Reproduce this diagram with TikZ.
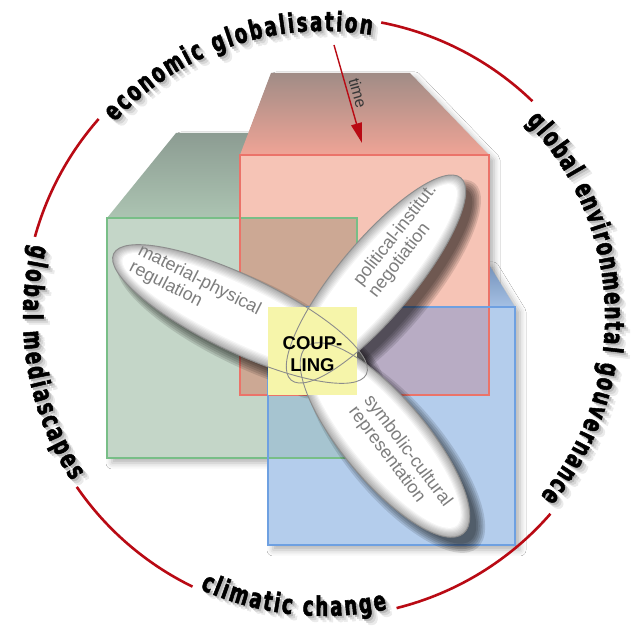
\documentclass[tikz,border=0pt]{standalone}
\usepackage{fontspec}
\setmainfont{Liberation Sans}
\newfontfamily\ringfont{DejaVu Sans}[FakeStretch=0.68,FakeBold=1.8]
\usetikzlibrary{arrows.meta,decorations.text,shadows.blur}

\definecolor{ringred}{RGB}{185,10,20}
\definecolor{greenfront}{RGB}{196,214,200}
\definecolor{greenedge}{RGB}{120,190,135}
\definecolor{greentopback}{RGB}{140,156,146}
\definecolor{greentopfront}{RGB}{172,196,178}
\definecolor{redfront}{RGB}{246,196,182}
\definecolor{rededge}{RGB}{235,115,105}
\definecolor{redtopback}{RGB}{160,140,134}
\definecolor{redtopfront}{RGB}{240,164,150}
\definecolor{bluefront}{RGB}{180,205,236}
\definecolor{blueedge}{RGB}{110,160,225}
\definecolor{bluetopback}{RGB}{115,145,185}
\definecolor{bluetopfront}{RGB}{165,192,228}
\definecolor{redgreen}{RGB}{204,168,148}
\definecolor{redblue}{RGB}{184,172,196}
\definecolor{greenblue}{RGB}{166,196,208}
\definecolor{couplingfill}{RGB}{246,245,170}
\definecolor{petalgray}{RGB}{125,125,125}
\definecolor{petaledge}{RGB}{172,172,172}
\definecolor{petaloutline}{RGB}{140,140,140}
\definecolor{timegray}{RGB}{55,55,55}

\newcommand{\ringfontsize}{\ringfont\bfseries\fontsize{27}{27}\selectfont}

\tikzset{
  ringline/.style={draw=ringred, line width=2.6pt},
  boxedge/.style={line width=1.1pt},
  boxshadow/.style={blur shadow={shadow xshift=5pt, shadow yshift=-5pt, shadow blur radius=6pt, shadow opacity=30}},
  petalshadow/.style={fill=black, opacity=0.12},
  petaltext/.style={text=petalgray, align=left, inner sep=0pt, font=\fontsize{18}{19}\selectfont},
  petalline/.style={draw=petaloutline, line width=0.9pt},
  coupling/.style={fill=couplingfill, minimum width=89pt, minimum height=88pt, inner sep=0pt},
  couplingtext/.style={align=center, inner sep=0pt, font=\bfseries\fontsize{18.5}{22}\selectfont},
  timearrow/.style={-{Triangle[length=20pt,width=11pt]}, draw=ringred, fill=ringred, line width=1.4pt},
  timelabel/.style={text=timegray, inner sep=0pt, font=\fontsize{16}{16}\selectfont}
}

% text on the ring: start angle, end angle, raise, text
\newcommand{\ringlabel}[4]{%
  \foreach \sh/\sc in {6/8, 4/16, 2/28} {
    \path[decorate, decoration={text along path, text align=fit to path, raise=#3,
        text={|\ringfontsize\color{black!\sc}|#4}}]
      ([xshift=\sh pt, yshift=-\sh pt]ringcentre) ++(#1:300) arc[start angle=#1, end angle=#2, radius=300];
  }
  \path[decorate, decoration={text along path, text align=fit to path, raise=#3,
      text={|\ringfontsize|#4}}]
    (ringcentre) ++(#1:300) arc[start angle=#1, end angle=#2, radius=300];
}

\begin{document}
\begin{tikzpicture}[x=1pt, y=1pt]
  \useasboundingbox (0,0) rectangle (631,628);
  \fill[white] (0,0) rectangle (631,628);

  % shadows of the three boxes
  \path[boxshadow] (107,170) -- (107,410) -- (176,495) -- (340,495) -- (357,410) -- (357,170) -- cycle;
  \path[boxshadow] (240,233) -- (240,473) -- (271,555) -- (410,555) -- (489,473) -- (489,233) -- cycle;
  \path[boxshadow] (268,83) -- (268,321) -- (273,365) -- (488,365) -- (515,321) -- (515,83) -- cycle;

  % boxes
  \shade[top color=greentopback, bottom color=greentopfront] (107,410) -- (176,495) -- (340,495) -- (357,410) -- cycle;
  \shade[top color=bluetopback, bottom color=bluetopfront] (268,321) -- (273,365) -- (488,365) -- (515,321) -- cycle;
  \fill[greenfront] (107,170) rectangle (357,410);
  \shade[top color=redtopback, bottom color=redtopfront] (240,473) -- (271,555) -- (410,555) -- (489,473) -- cycle;
  \fill[redfront] (240,233) rectangle (489,473);
  \fill[redgreen] (240,233) rectangle (357,410);
  \fill[bluefront] (268,83) rectangle (515,321);
  \fill[redblue] (268,233) rectangle (489,321);
  \fill[greenblue] (268,170) rectangle (357,321);
  \draw[boxedge, greenedge] (107,170) rectangle (357,410);
  \draw[boxedge, rededge] (240,233) rectangle (489,473);
  \draw[boxedge, blueedge] (268,83) rectangle (515,321);

  % petals
  \foreach \cx/\cy/\ang/\ra/\rb/\sx/\sy in {240/314/-25.5/140/38/13.3/-4.7, 376/349/50/132/38/-1.2/-14.1, 385/188/-50/122/42/14.1/1.2} {
    \begin{scope}[transform canvas={shift={(\cx,\cy)}, rotate=\ang}]
      \foreach \j in {0,...,5}
        \fill[petalshadow] (\sx,\sy) ellipse [x radius=\ra+6-2*\j, y radius=\rb+6-2*\j];
      \foreach \k in {0,...,8} {
        \pgfmathtruncatemacro{\mix}{100-\k*12.5}
        \fill[petaledge!\mix] (0,0) ellipse [x radius=\ra-1.3*\k, y radius=\rb-1.3*\k];
      }
    \end{scope}
  }

  \node[coupling] (couplingbox) at (312.5,277) {};

  \foreach \cx/\cy/\ang/\ra/\rb in {240/314/-25.5/140/38, 376/349/50/132/38, 385/188/-50/122/42} {
    \begin{scope}[transform canvas={shift={(\cx,\cy)}, rotate=\ang}]
      \draw[petalline] (0,0) ellipse [x radius=\ra, y radius=\rb];
    \end{scope}
  }

  \node[couplingtext] (couplinglabel) at ([yshift=-3pt]couplingbox.center) {COUP-\\LING};
  \node[petaltext, rotate=-27] (material) at (195,339) {material-physical\\regulation};
  \node[petaltext, rotate=52] (political) at (403,387) {political-institut.\\negotiation};
  \node[petaltext, rotate=-53] (symbolic) at (400,171) {symbolic-cultural\\representation};

  % time
  \coordinate (timestart) at (334,583);
  \coordinate (timeend) at (362,485);
  \draw[timearrow] (timestart) -- (timeend);
  \node[timelabel, rotate=-74] (timetext) at (358,535) {time};

  % ring
  \coordinate (ringcentre) at (324,311);
  \foreach \a/\b in {79/46, -41/-76, 244/214.5, 164.5/138.7}
    \draw[ringline] (ringcentre) ++(\a:300) arc[start angle=\a, end angle=\b, radius=300];

  \ringlabel{137}{80.5}{-14pt}{economic globalisation}
  \ringlabel{44}{-39.5}{-19pt}{global environmental gouvernance}
  \ringlabel{-114.5}{-77.8}{1pt}{climatic change}
  \ringlabel{166}{213}{-1pt}{global mediascapes}
\end{tikzpicture}
\end{document}
